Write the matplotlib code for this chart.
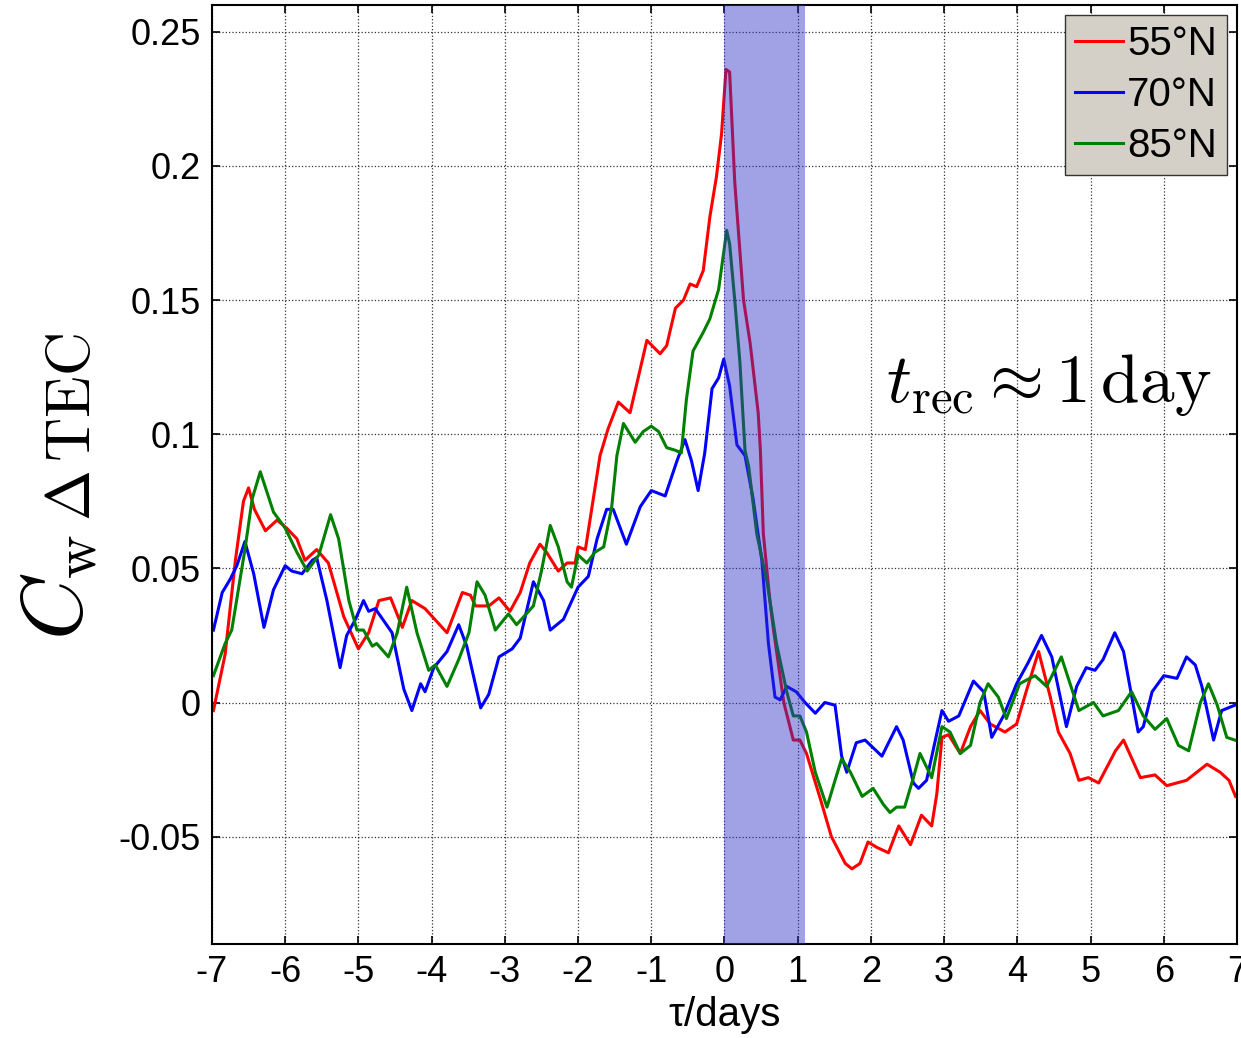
import numpy as np
import matplotlib
matplotlib.use('Agg')
import matplotlib.pyplot as plt

plt.rcParams['font.family'] = ['Liberation Sans', 'DejaVu Sans']
plt.rcParams['mathtext.fontset'] = 'cm'
plt.rcParams['axes.unicode_minus'] = False

# data (tau in days, C_w*dTEC)
tau_55 = [-6.98, -6.82, -6.68, -6.57, -6.50, -6.42, -6.27, -6.11, -5.98, -5.84, -5.73, -5.57, -5.41, -5.20, -5.00,
          -4.86, -4.72, -4.56, -4.40, -4.27, -4.09, -3.79, -3.58, -3.47, -3.40, -3.22, -3.08, -2.93, -2.79, -2.66,
          -2.52, -2.43, -2.27, -2.15, -2.04, -2.00, -1.90, -1.70, -1.59, -1.45, -1.29, -1.06, -0.88, -0.79, -0.67,
          -0.56, -0.47, -0.38, -0.29, -0.20, -0.11, -0.04, 0.02, 0.07, 0.14, 0.26, 0.35, 0.46, 0.49, 0.53, 0.62,
          0.67, 0.81, 0.94, 1.03, 1.12, 1.31, 1.46, 1.65, 1.74, 1.85, 1.96, 2.08, 2.24, 2.38, 2.54, 2.69, 2.83,
          2.90, 2.97, 3.06, 3.22, 3.36, 3.49, 3.63, 3.83, 3.99, 4.13, 4.29, 4.45, 4.56, 4.72, 4.84, 4.97, 5.11,
          5.34, 5.45, 5.68, 5.88, 6.04, 6.31, 6.59, 6.77, 6.89, 6.98]
c_55 = [-0.003, 0.018, 0.053, 0.075, 0.080, 0.072, 0.064, 0.068, 0.065, 0.061, 0.053, 0.057, 0.052, 0.032, 0.020,
        0.026, 0.038, 0.039, 0.028, 0.038, 0.035, 0.026, 0.041, 0.040, 0.036, 0.036, 0.039, 0.034, 0.041, 0.052,
        0.059, 0.056, 0.049, 0.052, 0.052, 0.058, 0.057, 0.092, 0.102, 0.112, 0.108, 0.135, 0.130, 0.133, 0.147,
        0.150, 0.156, 0.155, 0.161, 0.181, 0.196, 0.212, 0.236, 0.235, 0.194, 0.150, 0.134, 0.108, 0.094, 0.063, 0.038,
        0.027, 0.000, -0.014, -0.014, -0.019, -0.036, -0.050, -0.060, -0.062, -0.060, -0.052, -0.054, -0.056, -0.046,
        -0.053, -0.042, -0.046, -0.034, -0.013, -0.012, -0.019, -0.009, -0.003, -0.008, -0.011, -0.008, 0.005, 0.019,
        0.002, -0.011, -0.019, -0.029, -0.028, -0.030, -0.018, -0.014, -0.028, -0.027, -0.031, -0.029, -0.023, -0.026,
        -0.029, -0.035]

tau_70 = [-6.98, -6.86, -6.75, -6.66, -6.55, -6.43, -6.29, -6.16, -6.00, -5.91, -5.77, -5.63, -5.57, -5.43, -5.25,
          -5.16, -5.04, -4.93, -4.86, -4.77, -4.54, -4.38, -4.27, -4.15, -4.09, -3.97, -3.79, -3.63, -3.52, -3.33,
          -3.22, -3.08, -2.90, -2.79, -2.61, -2.47, -2.38, -2.20, -2.00, -1.86, -1.74, -1.61, -1.52, -1.34, -1.15,
          -1.00, -0.81, -0.65, -0.54, -0.45, -0.36, -0.27, -0.17, -0.08, -0.01, 0.07, 0.17, 0.28, 0.39, 0.51, 0.60,
          0.69, 0.76, 0.85, 0.98, 1.10, 1.24, 1.37, 1.51, 1.60, 1.67, 1.80, 1.92, 2.15, 2.35, 2.44, 2.58, 2.65,
          2.76, 2.88, 2.97, 3.06, 3.20, 3.40, 3.54, 3.65, 3.81, 3.99, 4.15, 4.33, 4.47, 4.67, 4.81, 4.94, 5.06,
          5.17, 5.33, 5.45, 5.65, 5.72, 5.84, 6.00, 6.18, 6.31, 6.43, 6.52, 6.68, 6.79, 6.97]
c_70 = [0.027, 0.041, 0.046, 0.051, 0.060, 0.048, 0.028, 0.042, 0.051, 0.049, 0.048, 0.053, 0.054, 0.038, 0.013,
        0.025, 0.031, 0.038, 0.034, 0.035, 0.026, 0.005, -0.003, 0.007, 0.004, 0.013, 0.019, 0.029, 0.021, -0.002,
        0.003, 0.017, 0.020, 0.024, 0.045, 0.038, 0.027, 0.031, 0.043, 0.047, 0.061, 0.072, 0.072, 0.059, 0.073,
        0.079, 0.077, 0.090, 0.098, 0.090, 0.079, 0.093, 0.117, 0.121, 0.128, 0.118, 0.096, 0.092, 0.076, 0.053, 0.022,
        0.002, 0.001, 0.006, 0.004, 0.000, -0.004, 0.000, -0.001, -0.020, -0.026, -0.015, -0.014, -0.020, -0.009,
        -0.014, -0.030, -0.032, -0.029, -0.014, -0.003, -0.007, -0.005, 0.008, 0.004, -0.013, -0.005, 0.007, 0.015,
        0.025, 0.017, -0.009, 0.006, 0.013, 0.012, 0.016, 0.026, 0.019, -0.011, -0.009, 0.004, 0.010, 0.009, 0.017,
        0.014, 0.006, -0.014, -0.003, -0.001]

tau_85 = [-6.98, -6.82, -6.73, -6.55, -6.45, -6.34, -6.16, -6.00, -5.84, -5.70, -5.54, -5.38, -5.27, -5.13, -5.02,
          -4.93, -4.81, -4.75, -4.59, -4.47, -4.34, -4.20, -4.04, -3.95, -3.79, -3.63, -3.49, -3.38, -3.27, -3.13,
          -3.04, -2.95, -2.84, -2.61, -2.50, -2.38, -2.27, -2.15, -2.09, -2.00, -1.88, -1.77, -1.65, -1.54, -1.47,
          -1.38, -1.22, -1.11, -1.00, -0.90, -0.79, -0.67, -0.59, -0.52, -0.43, -0.29, -0.20, -0.08, -0.02, 0.03,
          0.07, 0.14, 0.21, 0.28, 0.33, 0.44, 0.58, 0.71, 0.85, 0.94, 1.03, 1.12, 1.24, 1.40, 1.51, 1.60, 1.72,
          1.88, 2.03, 2.17, 2.26, 2.35, 2.46, 2.58, 2.67, 2.83, 2.97, 3.08, 3.22, 3.36, 3.49, 3.60, 3.74, 3.85,
          4.03, 4.24, 4.40, 4.60, 4.72, 4.84, 5.04, 5.17, 5.38, 5.56, 5.72, 5.88, 6.04, 6.20, 6.34, 6.50, 6.61,
          6.73, 6.86, 6.97]
c_85 = [0.010, 0.022, 0.027, 0.057, 0.076, 0.086, 0.071, 0.065, 0.056, 0.049, 0.055, 0.070, 0.061, 0.038, 0.027,
        0.027, 0.021, 0.022, 0.017, 0.026, 0.043, 0.026, 0.012, 0.014, 0.006, 0.016, 0.026, 0.045, 0.040, 0.027,
        0.030, 0.033, 0.029, 0.036, 0.049, 0.066, 0.058, 0.045, 0.043, 0.055, 0.052, 0.056, 0.058, 0.073, 0.092,
        0.104, 0.097, 0.101, 0.103, 0.101, 0.095, 0.094, 0.093, 0.113, 0.131, 0.138, 0.143, 0.154, 0.166, 0.176,
        0.171, 0.150, 0.127, 0.094, 0.088, 0.063, 0.045, 0.022, 0.004, -0.005, -0.005, -0.011, -0.026, -0.039,
        -0.029, -0.021, -0.026, -0.035, -0.032, -0.038, -0.041, -0.039, -0.039, -0.028, -0.019, -0.028, -0.009,
        -0.011, -0.019, -0.016, 0.000, 0.007, 0.002, -0.006, 0.007, 0.010, 0.006, 0.017, 0.007, -0.003, 0.000,
        -0.005, -0.003, 0.004, -0.005, -0.010, -0.006, -0.016, -0.018, 0.000, 0.007, -0.001, -0.013, -0.014]

labels = ['55°N', '70°N', '85°N']
colors = ['#ff0000', '#0000ff', '#008000']
shade = (0.0, 1.1)  # recovery window

fig = plt.figure(figsize=(12.41, 10.38), dpi=100)
ax = fig.add_axes([0.1708, 0.0906, 0.826, 0.9046])

for t, c, lab, col in zip([tau_55, tau_70, tau_85], [c_55, c_70, c_85], labels, colors):
    ax.plot(t, c, color=col, lw=2.2, label=lab, zorder=2)

ax.axvspan(shade[0], shade[1], facecolor='#3030c8', alpha=0.45, edgecolor='none', zorder=3)

ax.set_xlim(-7, 7)
ax.set_ylim(-0.09, 0.26)
ax.set_xticks(np.arange(-7, 8))
ax.set_xticklabels([str(i) for i in range(-7, 8)])
yt = [-0.05, 0, 0.05, 0.1, 0.15, 0.2, 0.25]
ax.set_yticks(yt)
ax.set_yticklabels(['-0.05', '0', '0.05', '0.1', '0.15', '0.2', '0.25'])
ax.tick_params(direction='in', labelsize=26, length=6, width=1.2, top=True, right=True, pad=8)
ax.grid(True, linestyle=':', color='black', linewidth=0.9, alpha=0.8)
for s in ax.spines.values():
    s.set_linewidth(1.5)

ax.set_xlabel(r'τ/days', fontsize=29, labelpad=4)

# y label in two parts, the C is set larger than the rest
fig.text(0.048, 0.434, r'$C_{\rm w}$', fontsize=62, rotation=90, ha='center', va='center')
fig.text(0.060, 0.589, r'$\Delta\,{\rm TEC}$', fontsize=44, rotation=90, ha='center', va='center')

ax.text(2.2, 0.1185, r'$t_{\rm rec}\approx 1\,{\rm day}$', fontsize=50, ha='left', va='center')

leg = ax.legend(loc='upper right', fontsize=29, handlelength=1.2, handletextpad=0.1,
                borderpad=0.25, labelspacing=0.32, fancybox=False, borderaxespad=0.25)
leg.get_frame().set_facecolor('#d4d0c8')
leg.get_frame().set_edgecolor('#333333')
leg.get_frame().set_alpha(1)

fig.savefig('out.png', dpi=100)
